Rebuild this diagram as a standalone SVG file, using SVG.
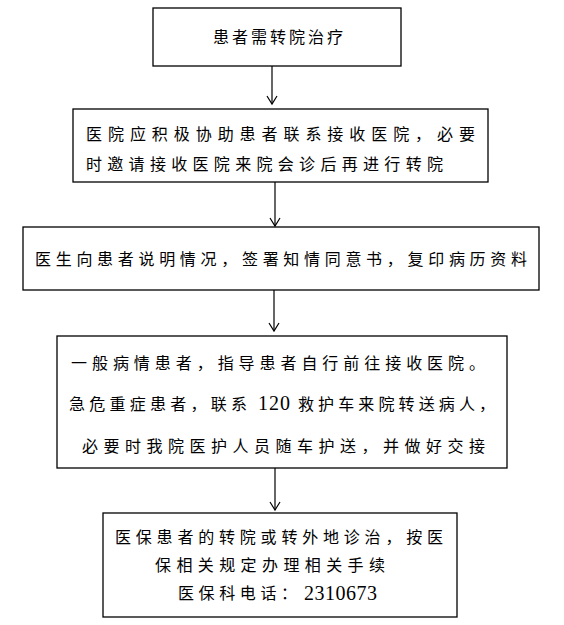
<svg xmlns="http://www.w3.org/2000/svg" width="564" height="625" viewBox="0 0 564 625">
<style>
rect{fill:#fff;stroke:#000;stroke-width:1.3}
text{font-family:"Liberation Serif","Noto Sans CJK SC",serif;font-size:16px;fill:#000}
text.d{font-size:20px}
.c line,.c polyline{stroke:#000;stroke-width:1.2;fill:none}
</style>
<rect width="564" height="625" style="stroke:none"/>
<g id="n1"><rect x="153" y="8" width="248" height="58"/><text x="213" y="43" textLength="130" lengthAdjust="spacing">患者需转院治疗</text></g>
<g id="n2"><rect x="73" y="109" width="415" height="73"/>
<text x="86" y="140" textLength="389" lengthAdjust="spacing">医院应积极协助患者联系接收医院，必要</text>
<text x="86" y="170" textLength="357" lengthAdjust="spacing">时邀请接收医院来院会诊后再进行转院</text></g>
<g id="n3"><rect x="23" y="227" width="516" height="63"/>
<text x="35" y="265" textLength="492" lengthAdjust="spacing">医生向患者说明情况，签署知情同意书，复印病历资料</text></g>
<g id="n4"><rect x="57" y="336" width="450" height="132"/>
<text x="71" y="369" textLength="414" lengthAdjust="spacing">一般病情患者，指导患者自行前往接收医院。</text>
<text x="69" y="410" textLength="178" lengthAdjust="spacing">急危重症患者，联系</text>
<text class="d" x="258" y="410" textLength="32" lengthAdjust="spacing">120</text>
<text x="298" y="410" textLength="197" lengthAdjust="spacing">救护车来院转送病人，</text>
<text x="82" y="452" textLength="403" lengthAdjust="spacing">必要时我院医护人员随车护送，并做好交接</text></g>
<g id="n5"><rect x="103" y="513" width="354" height="104"/>
<text x="115" y="543" textLength="328" lengthAdjust="spacing">医保患者的转院或转外地诊治，按医</text>
<text x="155" y="571" textLength="230" lengthAdjust="spacing">保相关规定办理相关手续</text>
<text x="178" y="599" textLength="119" lengthAdjust="spacing">医保科电话：</text>
<text class="d" x="304" y="600" textLength="73" lengthAdjust="spacing">2310673</text></g>
<g class="c" id="connectors">
<line x1="272" y1="66" x2="272" y2="104"/><polyline points="267,96 272,104 277,96"/>
<line x1="275" y1="182" x2="275" y2="226"/><polyline points="270,218 275,226 280,218"/>
<line x1="274" y1="290" x2="274" y2="331"/><polyline points="269,323 274,331 279,323"/>
<line x1="275" y1="468" x2="275" y2="510"/><polyline points="270,502 275,510 280,502"/>
</g>
</svg>
